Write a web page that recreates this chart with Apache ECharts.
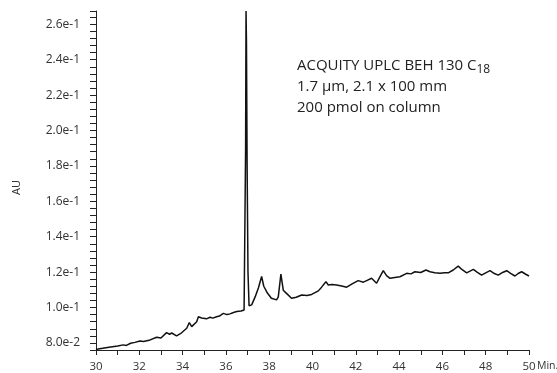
<!DOCTYPE html>
<html>
<head>
<meta charset="utf-8">
<script src="https://cdn.jsdelivr.net/npm/echarts@6/dist/echarts.min.js"></script>
<style>
  html, body { margin: 0; padding: 0; background: #fff; }
  #chrom { width: 557px; height: 373px; }
</style>
</head>
<body>
<div id="chrom"></div>
<script>
var myChartChrom = echarts.init(document.getElementById('chrom'));

// retention time (min) and absorbance (AU)
var times = [30.0, 30.1, 30.6, 31.0, 31.26, 31.4, 31.6, 31.8, 32.03, 32.2, 32.5, 32.8, 33.0, 33.26, 33.4, 33.5, 33.72, 33.9,
  34.19, 34.31, 34.42, 34.65, 34.73, 34.88, 35.1, 35.27, 35.4, 35.57, 35.7, 35.88, 36.05, 36.19, 36.35, 36.5, 36.7, 36.84,
  36.88, 36.91, 36.93, 36.95, 36.98, 37.02, 37.07, 37.19, 37.35, 37.5, 37.65, 37.75, 37.9, 38.1, 38.34, 38.42, 38.54,
  38.65, 38.8, 39.03, 39.25, 39.5, 39.75, 39.96, 40.27, 40.42, 40.62, 40.73, 40.9, 41.11, 41.35, 41.58, 41.85, 42.11,
  42.35, 42.55, 42.73, 42.96, 43.1, 43.27, 43.42, 43.58, 43.8, 44.04, 44.35, 44.55, 44.73, 45.0, 45.24, 45.43, 45.65,
  45.89, 46.1, 46.27, 46.5, 46.73, 46.9, 47.12, 47.43, 47.6, 47.81, 48.0, 48.2, 48.4, 48.58, 48.78, 48.97, 49.15,
  49.35, 49.5, 49.66, 49.85, 50.0];
var absorb = [0.0762, 0.0766, 0.0775, 0.0782, 0.0789, 0.0786, 0.0798, 0.0803, 0.0811, 0.0808, 0.0817, 0.0832, 0.0828,
  0.0858, 0.0849, 0.0856, 0.0840, 0.0852, 0.0883, 0.0915, 0.0892, 0.0920, 0.0948, 0.0941, 0.0936, 0.0945, 0.0940,
  0.0948, 0.0952, 0.0967, 0.0960, 0.0964, 0.0972, 0.0977, 0.0980, 0.0986, 0.0990, 0.1900, 0.2675, 0.2500, 0.1800,
  0.1200, 0.1010, 0.1015, 0.1060, 0.1110, 0.1175, 0.1120, 0.1085, 0.1052, 0.1043, 0.1060, 0.1189, 0.1098, 0.1080,
  0.1052, 0.1058, 0.1071, 0.1068, 0.1074, 0.1094, 0.1115, 0.1146, 0.1127, 0.1130, 0.1127, 0.1122, 0.1115, 0.1135,
  0.1152, 0.1143, 0.1155, 0.1165, 0.1137, 0.1170, 0.1208, 0.1180, 0.1165, 0.1170, 0.1174, 0.1193, 0.1190, 0.1202,
  0.1198, 0.1212, 0.1202, 0.1197, 0.1193, 0.1196, 0.1196, 0.1212, 0.1234, 0.1215, 0.1196, 0.1215, 0.1200, 0.1183,
  0.1196, 0.1208, 0.1192, 0.1183, 0.1198, 0.1208, 0.1193, 0.1178, 0.1192, 0.1202, 0.1188, 0.1178];

// labelled y ticks (AU); minor ticks every 0.004 in between
var yTickLabels = [0.08, 0.10, 0.12, 0.14, 0.16, 0.18, 0.20, 0.22, 0.24, 0.26];

var trace = [];
for (var i = 0; i < times.length; i++) {
  trace.push([times[i], absorb[i]]);
}

var font = 'Open Sans';

function isLabelled(v) {
  for (var j = 0; j < yTickLabels.length; j++) {
    if (Math.abs(v - yTickLabels[j]) < 1e-6) return true;
  }
  return false;
}

option = {
  animation: false,
  backgroundColor: '#fff',
  grid: { left: 96, right: 28, top: 11, bottom: 23 },
  xAxis: {
    type: 'value',
    min: 30,
    max: 50,
    interval: 1,
    axisLine: { lineStyle: { color: '#222', width: 1 } },
    axisTick: { length: 5, lineStyle: { color: '#222' } },
    axisLabel: {
      interval: 1,
      color: '#333',
      fontFamily: font,
      fontSize: 11.5,
      margin: 11,
      formatter: function (v) { return v % 2 === 0 ? String(v) : ''; }
    },
    splitLine: { show: false }
  },
  yAxis: {
    type: 'value',
    min: 0.076,
    max: 0.2675,
    interval: 0.004,
    name: 'AU',
    nameLocation: 'middle',
    nameRotate: 90,
    nameGap: 74,
    nameTextStyle: { color: '#333', fontFamily: font, fontSize: 11, padding: [0, 14, 0, 0] },
    axisLine: { show: true, lineStyle: { color: '#222', width: 1 } },
    axisTick: { show: true, length: 6, lineStyle: { color: '#222' } },
    axisLabel: {
      color: '#333',
      fontFamily: font,
      fontSize: 12,
      margin: 16,
      formatter: function (v) { return isLabelled(v) ? v.toExponential(1) : ''; }
    },
    splitLine: { show: false }
  },
  graphic: [{
    type: 'text',
    left: 297,
    top: 55,
    style: {
      text: '{t|ACQUITY UPLC BEH 130 C}{s|18}\n{t|1.7 µm, 2.1 x 100 mm}\n{t|200 pmol on column}',
      rich: {
        t: { fontFamily: font, fontSize: 15, lineHeight: 21, fill: '#222' },
        s: { fontFamily: font, fontSize: 12, lineHeight: 21, fill: '#222', padding: [9, 0, 0, 0] }
      }
    }
  }, {
    type: 'text',
    left: 537,
    top: 361,
    style: { text: 'Min.', fontFamily: font, fontSize: 10.5, fill: '#333' }
  }],
  series: [{
    type: 'line',
    data: trace,
    showSymbol: false,
    smooth: false,
    lineStyle: { color: '#111', width: 1.5 }
  }]
};

myChartChrom.setOption(option);
</script>
</body>
</html>
